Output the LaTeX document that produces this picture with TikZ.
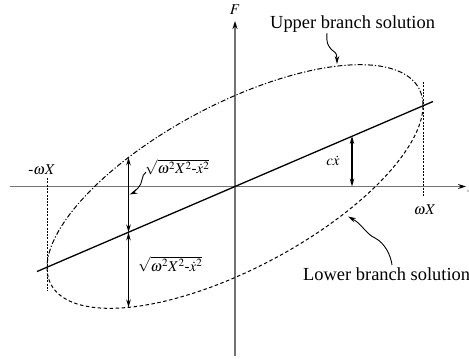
\documentclass[tikz,border=0pt]{standalone}
\usepackage{mathptmx}
\usepackage[no-math]{fontspec}
\setmainfont{Liberation Serif}
\usetikzlibrary{arrows.meta}
\begin{document}
\begin{tikzpicture}[x=1bp,y=-1bp,
  axisline/.style={draw=black!55, line width=1.4bp, -{Stealth[length=8bp,width=5bp,color=black]}},
  mainline/.style={draw=black, line width=1.3bp},
  guide/.style={draw=black, line width=0.8bp, dash pattern=on 2bp off 1.3bp},
  upperbr/.style={draw=black, line width=1bp, dash pattern=on 5bp off 2bp on 1.2bp off 2bp},
  lowerbr/.style={draw=black, line width=1bp, dash pattern=on 3.5bp off 2.5bp},
  dimarrow/.style={draw=black, line width=1.2bp, {Stealth[length=8bp,width=4.5bp]}-{Stealth[length=8bp,width=4.5bp]}},
  leader/.style={draw=black, line width=0.9bp, -{Stealth[length=8bp,width=4.5bp]}},
  mathlbl/.style={inner sep=0pt, font=\fontsize{15}{18}\selectfont},
  txtlbl/.style={inner sep=0pt, font=\fontsize{18.5}{22}\selectfont}]
\useasboundingbox (0,0) rectangle (469,358);

% axes
\coordinate (xs) at (10,186.5);
\coordinate (xe) at (466,186.5);
\coordinate (ys) at (235,356);
\coordinate (ye) at (235,21);
\draw[axisline] (xs) -- (xe);
\draw[axisline] (ys) -- (ye);
\fill (468,191) circle (0.7bp);

% guide lines
\coordinate (gl1) at (47.5,178);
\coordinate (gl2) at (47.5,291);
\coordinate (gr1) at (423,82);
\coordinate (gr2) at (423,197);
\draw[guide] (gl1) -- (gl2);
\draw[guide] (gr1) -- (gr2);

% ellipse
\draw[upperbr] plot[domain=0:180,samples=150,smooth] ({235+188*cos(\x)},{186.5-81*cos(\x)-91*sin(\x)});
\draw[lowerbr] plot[domain=180:360,samples=150,smooth] ({235+188*cos(\x)},{186.5-81*cos(\x)-91*sin(\x)});

% main line
\coordinate (ml1) at (37,271.5);
\coordinate (ml2) at (433,101.5);
\draw[mainline] (ml1) -- (ml2);

% dimension arrows
\coordinate (e1) at (128.5,157.4);
\coordinate (l1) at (128.5,232.4);
\coordinate (e2) at (128.5,307.4);
\coordinate (l2) at (352,136);
\coordinate (a2) at (352,186.5);
\draw[dimarrow] (e1) -- (l1);
\draw[dimarrow] (l1) -- (e2);
\draw[dimarrow] (l2) -- (a2);

% labels
\node[mathlbl] (F) at (235,10) {$F$};
\node[mathlbl] (mwx) at (42,170) {$\mbox{-}\omega X$};
\node[mathlbl] (wx) at (425,209.5) {$\omega X$};
\node[mathlbl] (cxd) at (333,161) {$c\dot{x}$};
\node[mathlbl, anchor=west] (sq1) at (145,167) {$\sqrt{\omega^2X^2\mbox{-}\dot{x}^2}$};
\node[mathlbl, anchor=west] (sq2) at (138,264.5) {$\sqrt{\omega^2X^2\mbox{-}\dot{x}^2}$};
\node[txtlbl, anchor=base west] (ubl) at (270,28) {Upper branch solution};
\node[txtlbl, anchor=base west] (lbl) at (303,280.5) {Lower branch solution};

% leaders
\coordinate (ubs) at (327,33);
\coordinate (ubt) at (337,64);
\draw[leader] (ubs) .. controls (326,44) and (329,47) .. (332,50) .. controls (337,53) and (337,56) .. (ubt);
\coordinate (lbs) at (392,265);
\coordinate (lbt) at (348,216.5);
\draw[leader] (lbs) .. controls (391,256) and (385,243) .. (375,238) .. controls (366,234) and (362,224) .. (lbt);
\coordinate (sqs) at (146,172);
\coordinate (sqt) at (129.5,194.5);
\draw[leader] (sqs) .. controls (141,175) and (143,184) .. (138,188) .. controls (135,191) and (133,193) .. (sqt);
\end{tikzpicture}
\end{document}
